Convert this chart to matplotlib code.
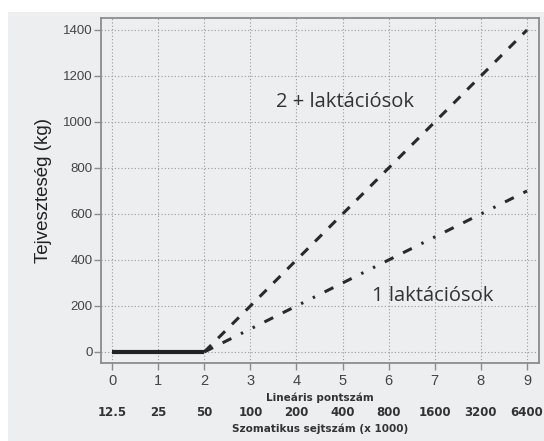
import matplotlib.pyplot as plt
from matplotlib.patches import Rectangle

linear_score = [0, 1, 2, 3, 4, 5, 6, 7, 8, 9]
scc_labels = ['12.5', '25', '50', '100', '200', '400', '800', '1600', '3200', '6400']

base_x = [0, 1, 2]
base_y = [0, 0, 0]
multi_x = [2, 3, 4, 5, 6, 7, 8, 9]
multi_y = [0, 200, 400, 600, 800, 1000, 1200, 1400]
first_x = [2, 3, 4, 5, 6, 7, 8, 9]
first_y = [0, 100, 200, 300, 400, 500, 600, 700]

bg = '#eceeef'
fig = plt.figure(figsize=(5.44, 4.41), dpi=100, facecolor='white')
fig.patches.append(Rectangle((8/544, 0), 1, (441-12)/441, transform=fig.transFigure,
                             facecolor=bg, edgecolor='none', zorder=-10))
ax = fig.add_axes([101/544, 1-363/441, 438/544, 345/441])
ax.set_facecolor(bg)

ax.plot(base_x, base_y, color='#222222', lw=3, solid_capstyle='butt', zorder=3)
ax.plot(multi_x, multi_y, color='#2a2a2a', lw=2.2, linestyle=(0, (3.2, 3.2)))
ax.plot(first_x, first_y, color='#2a2a2a', lw=2.2,
        linestyle=(0, (3.2, 3.5, 3.2, 3.5, 0.8, 3.5, 0.8, 3.5)))

ax.set_xlim(-0.24, 9.26)
ax.set_ylim(-48, 1452)
ax.set_xticks(linear_score)
ax.set_yticks(range(0, 1401, 200))
ax.grid(True, color='#9a9a9a', linestyle=(0, (1, 2)), lw=0.8)
ax.set_axisbelow(True)
for s in ax.spines.values():
    s.set_color('#8c8c8c')
    s.set_linewidth(1.3)
ax.tick_params(colors='#8c8c8c', labelcolor='#444444', length=5, width=1)
ax.tick_params(axis='x', labelsize=10.5, pad=3)
ax.tick_params(axis='y', labelsize=9.5, pad=1)
for lab in ax.get_xticklabels() + ax.get_yticklabels():
    lab.set_family('Liberation Sans')

ax.set_ylabel('Tejveszteség (kg)', fontsize=13.5, color='#222222', labelpad=8,
              family='Liberation Sans')

ax.text(5.05, 1087, '2 + laktációsok', fontsize=14.5, color='#333333',
        ha='center', va='center', family='Open Sans')
ax.text(6.95, 242, '1 laktációsok', fontsize=14.5, color='#333333',
        ha='center', va='center', family='Open Sans')

ax.set_xlabel('Lineáris pontszám', fontsize=7.5, fontweight='bold', color='#333333',
              labelpad=3)

sec = ax.secondary_xaxis(-0.125)
sec.set_xticks(linear_score)
sec.set_xticklabels(scc_labels)
sec.tick_params(length=0, labelsize=8.5, labelcolor='#333333', pad=0)
for lab in sec.get_xticklabels():
    lab.set_fontweight('bold')
sec.spines['bottom'].set_visible(False)
sec.set_xlabel('Szomatikus sejtszám (x 1000)', fontsize=7.5, fontweight='bold',
               color='#333333', labelpad=3)

fig.savefig('out.png', dpi=100, facecolor=fig.get_facecolor())
